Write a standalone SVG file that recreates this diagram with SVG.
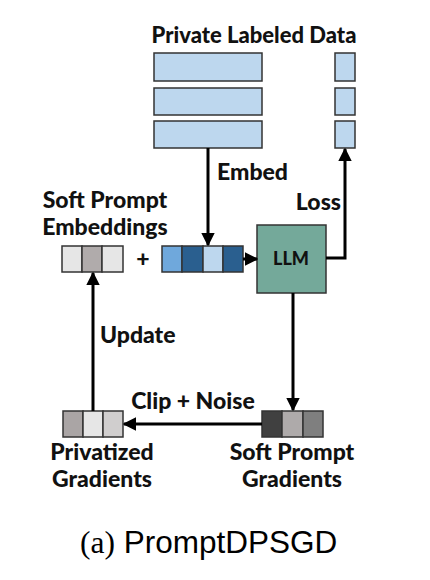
<svg xmlns="http://www.w3.org/2000/svg" width="430" height="580" viewBox="0 0 430 580">
<defs>
<style>
.lbl{font-family:Lato,"Liberation Sans",sans-serif;font-weight:900;font-size:23px;fill:#111;}
.cell{stroke:#333;stroke-width:1.5;}
.data{fill:#bdd7ee;stroke:#333;stroke-width:1.5;}
.conn{fill:none;stroke:#000;stroke-width:3;}
</style>
<marker id="ah" viewBox="0 0 10 10" refX="9" refY="5" markerWidth="4.5" markerHeight="4.5" orient="auto" markerUnits="strokeWidth">
<path d="M0,0 L10,5 L0,10 z" fill="#000"/>
</marker>
</defs>
<rect width="430" height="580" fill="#fff"/>

<g id="private-data">
<text class="lbl" x="254" y="43" text-anchor="middle" style="font-size:22px">Private Labeled Data</text>
<rect class="data" x="154" y="53" width="108" height="28"/>
<rect class="data" x="154" y="88" width="108" height="27"/>
<rect class="data" x="154" y="121" width="108" height="27"/>
<rect class="data" x="335" y="53" width="20" height="28"/>
<rect class="data" x="335" y="88" width="20" height="27"/>
<rect class="data" x="335" y="121" width="20" height="27"/>
</g>

<g id="soft-prompt-embeddings">
<text class="lbl" x="105" y="208" text-anchor="middle">Soft Prompt</text>
<text class="lbl" x="105" y="235" text-anchor="middle">Embeddings</text>
<rect class="cell" x="62" y="246" width="20" height="26" fill="#e6e6e6"/>
<rect class="cell" x="82" y="246" width="20" height="26" fill="#b0abab"/>
<rect class="cell" x="102" y="246" width="21" height="26" fill="#e6e6e6"/>
</g>

<g id="plus">
<text class="lbl" x="143" y="267" text-anchor="middle">+</text>
</g>

<g id="embedded-data">
<rect class="cell" x="162" y="246" width="20" height="26" fill="#6fa8dc"/>
<rect class="cell" x="182" y="246" width="21" height="26" fill="#2a5f8f"/>
<rect class="cell" x="203" y="246" width="20" height="26" fill="#bdd7ee"/>
<rect class="cell" x="223" y="246" width="20" height="26" fill="#2a5f8f"/>
</g>

<g id="llm">
<rect x="257" y="225" width="69" height="68" fill="#74a99a" stroke="#333" stroke-width="1.5"/>
<text class="lbl" x="291" y="265" text-anchor="middle" style="font-size:18px">LLM</text>
</g>

<g id="privatized-gradients">
<rect class="cell" x="63" y="411" width="20" height="26" fill="#aaa5a5"/>
<rect class="cell" x="83" y="411" width="20" height="26" fill="#e6e6e6"/>
<rect class="cell" x="103" y="411" width="20" height="26" fill="#d0cece"/>
<text class="lbl" x="102" y="460" text-anchor="middle">Privatized</text>
<text class="lbl" x="102" y="487" text-anchor="middle">Gradients</text>
</g>

<g id="soft-prompt-gradients">
<rect class="cell" x="262" y="411" width="20" height="26" fill="#404040"/>
<rect class="cell" x="282" y="411" width="21" height="26" fill="#aeaaaa"/>
<rect class="cell" x="303" y="411" width="20" height="26" fill="#7f7f7f"/>
<text class="lbl" x="292" y="460" text-anchor="middle">Soft Prompt</text>
<text class="lbl" x="292" y="487" text-anchor="middle">Gradients</text>
</g>

<g id="connectors">
<path class="conn" d="M208,148 L208,245" marker-end="url(#ah)"/>
<path class="conn" d="M243,259 L257,259" marker-end="url(#ah)"/>
<path class="conn" d="M326,258 L345,258 L345,149" marker-end="url(#ah)"/>
<path class="conn" d="M293,293 L293,410" marker-end="url(#ah)"/>
<path class="conn" d="M262,424 L124,424" marker-end="url(#ah)"/>
<path class="conn" d="M93,411 L93,273" marker-end="url(#ah)"/>
<text class="lbl" x="217" y="180">Embed</text>
<text class="lbl" x="341" y="210" text-anchor="end">Loss</text>
<text class="lbl" x="100" y="343">Update</text>
<text class="lbl" x="193" y="409" text-anchor="middle">Clip + Noise</text>
</g>

<g id="caption">
<text x="80" y="553" font-size="31.5" fill="#000"><tspan font-family="'Liberation Serif',serif">(a)</tspan><tspan font-family="'Liberation Sans',sans-serif"> PromptDPSGD</tspan></text>
</g>
</svg>
